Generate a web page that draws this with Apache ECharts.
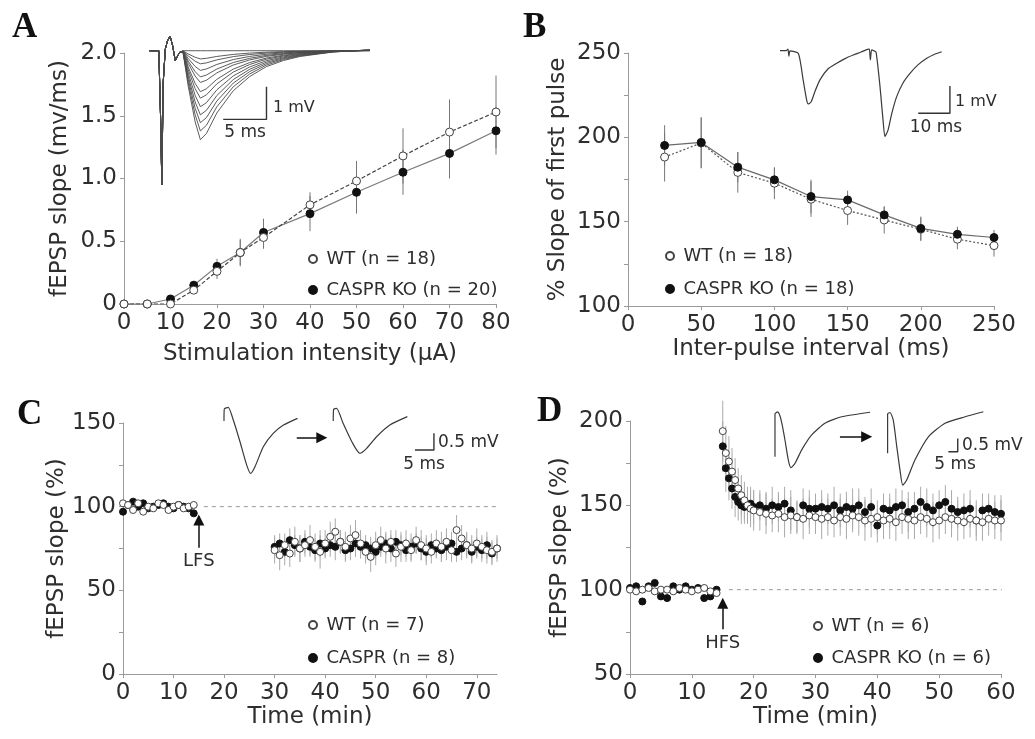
<!DOCTYPE html>
<html>
<head>
<meta charset="utf-8">
<script src="https://cdn.jsdelivr.net/npm/echarts@6/dist/echarts.min.js"></script>
<style>
  html, body { margin: 0; padding: 0; background: #fff; }
  #chart { width: 1035px; height: 739px; }
</style>
</head>
<body>
<div id="chart"></div>
<script>
// ---- panel A : input/output ----
const aX = [0, 5, 10, 15, 20, 25, 30, 40, 50, 60, 70, 80];
const aWT = [0, 0, 0, 0.11, 0.26, 0.41, 0.53, 0.79, 0.98, 1.18, 1.37, 1.53];
const aKO = [0, 0, 0.04, 0.15, 0.30, 0.41, 0.57, 0.72, 0.89, 1.05, 1.20, 1.38];
const aWTerr = [0, 0, 0.01, 0.03, 0.06, 0.10, 0.09, 0.10, 0.16, 0.22, 0.26, 0.29];
const aKOerr = [0, 0, 0.01, 0.03, 0.06, 0.11, 0.11, 0.14, 0.17, 0.18, 0.20, 0.19];

// ---- panel B : paired pulse ----
const bX = [25, 50, 75, 100, 125, 150, 175, 200, 225, 250];
const bWT = [188.3, 196.6, 179.2, 172.8, 163.3, 156.6, 151, 145.5, 139.6, 135.8];
const bKO = [195.2, 197, 182.3, 174.8, 164.9, 162.9, 154, 146, 142.5, 140.6];
const bWTerr = [14.5, 15, 12, 9.5, 10.5, 8.5, 8, 7, 6, 6.5];
const bKOerr = [12, 15, 9, 7, 10, 5.5, 5, 7, 4.5, 4.5];

// ---- panel C : LTD ----
const cBaseT = [0, 1, 2, 3, 4, 5, 6, 7, 8, 9, 10, 11, 12, 13, 14];
const cBaseWT = [102, 101, 98, 102, 97, 100, 99, 102, 101, 98, 100, 101, 99, 100, 101];
const cBaseKO = [97, 101, 103, 100, 102, 99, 100, 101, 102, 100, 99, 101, 100, 99, 96];
const cPostT = [30, 31, 32, 33, 34, 35, 36, 37, 38, 39, 40, 41, 42, 43, 44, 45, 46, 47, 48, 49,
  50, 51, 52, 53, 54, 55, 56, 57, 58, 59, 60, 61, 62, 63, 64, 65, 66, 67, 68, 69, 70, 71, 72, 73, 74];
const cPostWT = [74, 71, 77, 72, 79, 75, 77, 80, 76, 73, 78, 82, 85, 79, 76, 81, 83, 78, 73, 70,
  77, 80, 75, 79, 72, 76, 78, 74, 80, 77, 75, 73, 78, 76, 79, 74, 86, 81, 77, 75, 78, 76, 74, 73, 75];
const cPostKO = [76, 78, 73, 80, 77, 75, 79, 76, 74, 78, 75, 77, 76, 79, 74, 75, 78, 76, 77, 75,
  73, 76, 78, 75, 79, 77, 74, 76, 78, 75, 73, 77, 75, 74, 76, 78, 73, 75, 77, 73, 76, 74, 77, 72, 75];
const cPostWTerr = [8, 9, 7, 8, 9, 8, 7, 9, 8, 10, 8, 9, 8, 7, 9, 8, 9, 8, 7, 9,
  8, 8, 9, 7, 8, 9, 8, 7, 8, 9, 8, 7, 8, 9, 8, 7, 9, 8, 7, 8, 9, 7, 8, 7, 8];
const cPostKOerr = [7, 6, 8, 7, 6, 8, 7, 6, 7, 8, 6, 7, 8, 7, 6, 7, 8, 7, 6, 7,
  8, 6, 7, 8, 7, 6, 7, 8, 6, 7, 8, 7, 6, 7, 8, 7, 6, 7, 8, 7, 6, 7, 8, 7, 6];

// ---- panel D : LTP ----
const dBaseT = [0, 1, 2, 3, 4, 5, 6, 7, 8, 9, 10, 11, 12, 13, 14];
const dBaseWT = [100, 99, 100, 101, 99, 100, 100, 99, 101, 100, 99, 100, 101, 99, 98];
const dBaseKO = [101, 102, 93, 102, 104, 96, 95, 102, 100, 102, 100, 101, 95, 96, 100];
const dPostT = [15, 15.5, 16, 16.5, 17, 17.5, 18, 18.5, 19, 19.5, 20, 21, 22, 23, 24, 25, 26, 27, 28, 29,
  30, 31, 32, 33, 34, 35, 36, 37, 38, 39, 40, 41, 42, 43, 44, 45, 46, 47, 48, 49,
  50, 51, 52, 53, 54, 55, 56, 57, 58, 59, 60];
const dPostWT = [194, 181, 176, 170, 165, 160, 156, 153, 150, 148, 147, 146, 145, 144, 145, 143, 144, 143, 142, 144,
  143, 142, 143, 141, 143, 142, 144, 143, 141, 142, 143, 141, 142, 140, 143, 142, 141, 143, 142, 140,
  141, 143, 142, 141, 140, 142, 141, 140, 142, 141, 141];
const dPostKO = [185, 172, 166, 160, 155, 152, 150, 149, 150, 151, 149, 150, 148, 150, 149, 151, 147, 143, 150, 148,
  148, 149, 148, 150, 147, 149, 148, 150, 146, 149, 138, 148, 147, 149, 150, 146, 148, 152, 149, 147,
  150, 152, 148, 146, 147, 148, 141, 147, 148, 146, 145];
const dPostWTerr = [18, 16, 15, 14, 13, 12, 12, 11, 11, 11, 12, 11, 12, 10, 11, 12, 11, 10, 12, 11,
  10, 12, 11, 10, 11, 12, 10, 11, 12, 11, 10, 11, 12, 11, 10, 12, 11, 10, 11, 12,
  11, 10, 11, 12, 10, 11, 12, 11, 10, 11, 12];
const dPostKOerr = [15, 14, 13, 12, 12, 11, 11, 10, 10, 10, 10, 9, 10, 11, 9, 10, 12, 9, 10, 11,
  9, 10, 9, 11, 10, 9, 12, 10, 9, 11, 10, 9, 10, 11, 9, 12, 10, 9, 11, 10,
  9, 10, 11, 9, 10, 11, 9, 10, 9, 10, 11];

// ---- inset traces (ms, mV) ----
const tA = [0, 1.1, 1.3, 1.45, 1.6, 1.85, 2.1, 2.4, 2.7, 3.0, 3.2, 3.5, 3.9, 4.5, 5.3, 5.9, 6.6, 7.8, 9.7, 11.6, 13.5, 15.5, 17.4, 21.2, 25.5];
const artA = [0, 0, -2.0, -4.1, -1.0, 0.05, 0.3, 0.45, 0.15, -0.3, -0.35, -0.05, 0, 0, 0, 0, 0, 0, 0, 0, 0, 0, 0, 0, 0];
const epspA = [0, 0, 0, 0, 0, 0, 0, 0, 0, 0, 0, 0, -0.02, -0.4, -0.8, -1.0, -0.93, -0.7, -0.45, -0.29, -0.18, -0.11, -0.065, -0.015, 0.01];
const ampA = [0, 0.25, 0.4, 0.6, 0.8, 0.97, 1.25, 1.45, 1.71, 1.96, 2.2, 2.45, 2.72];
const scaleA = [[13.54, -1.1], [13.54, -2.1], [8.54, -2.1]];

const tB = [0, 1.9, 2.5, 2.8, 3.15, 5.8, 7.3, 8.4, 8.9, 9.8, 11.0, 12.6, 15.1, 17.9, 20.5, 23.1, 25.6, 27.9, 28.2, 28.5,
  28.9, 29.6, 30.3, 31.5, 32.5, 33.1, 34.1, 35.3, 36.8, 38.8, 41.0, 43.5, 46.3, 48.6, 51.0];
const vB = [0, 0, 0.06, -0.2, -0.01, -0.1, -1.07, -1.8, -1.95, -1.88, -1.5, -1.07, -0.67, -0.46, -0.29, -0.16, -0.05, 0.06, 0.06, -0.34,
  0.03, 0, -0.05, -1.26, -2.54, -3.15, -2.9, -2.28, -1.68, -1.18, -0.83, -0.52, -0.28, -0.14, -0.04];
const scaleB = [[53.6, -1.29], [53.6, -2.29], [43.6, -2.29]];

const tC1 = [1.05, 1.13, 2.18, 3.5, 5.26, 7.03, 8.08, 9.2, 11.4, 14.0, 16.7, 20.4];
const vC1 = [-0.35, 0.01, 0.06, -0.32, -0.97, -1.67, -1.92, -1.72, -1.12, -0.72, -0.47, -0.27];
const tC2 = [29.8, 29.9, 30.7, 32.4, 34.7, 36.8, 38.6, 41.2, 44.7, 49.3];
const vC2 = [-0.35, 0, 0.03, -0.42, -0.97, -1.32, -1.17, -0.82, -0.47, -0.22];
const arrowC = [[20.2, -0.85], [26.8, -0.85]];
const scaleC = [[56.3, -0.72], [56.3, -1.22], [51.3, -1.22]];

const tD1 = [2.67, 2.67, 4.0, 5.35, 6.4, 8.0, 9.8, 11.2, 13.4, 16.95, 22.3, 29.4, 38.3, 53.5];
const vD1 = [-1.63, -0.03, 0.05, -0.1, -0.4, -1.0, -1.75, -2.04, -1.87, -1.37, -0.81, -0.37, -0.13, 0.04];
const tD2 = [62.9, 62.9, 64.2, 65.9, 67.8, 69.5, 71.0, 73.1, 77.5, 84.7, 93.6, 104.3, 114.1];
const vD2 = [-1.5, -0.03, 0.03, -0.25, -1.25, -2.12, -2.69, -2.5, -1.75, -0.88, -0.37, -0.13, 0.06];
const arrowD = [[37.4, -0.88], [51.7, -0.88]];
const scaleD = [[100.4, -0.94], [100.4, -1.44], [95.4, -1.44]];

const FONT = '"DejaVu Sans", Verdana, sans-serif';
const TXT = '#2e2e2e';
const AXIS = '#9a9a9a';
const AX_FS = 23;

const chart = echarts.init(document.getElementById('chart'), null, { renderer: 'canvas' });

const pairs = (xs, ys) => xs.map((x, i) => [x, ys[i]]);
const errData = (xs, ys, es) => xs.map((x, i) => [x, ys[i] - es[i], ys[i] + es[i]]);

function errSeries(gi, data, color) {
  return {
    type: 'custom', xAxisIndex: gi, yAxisIndex: gi, silent: true, z: 1,
    encode: { x: 0, y: [1, 2] },
    data: data,
    renderItem: function (params, api) {
      const p1 = api.coord([api.value(0), api.value(1)]);
      const p2 = api.coord([api.value(0), api.value(2)]);
      return { type: 'line', shape: { x1: p1[0], y1: p1[1], x2: p2[0], y2: p2[1] },
        style: { stroke: color, lineWidth: 1 } };
    }
  };
}

function mainX(gi, min, max, interval, name, nameGap, extra) {
  return Object.assign({
    type: 'value', gridIndex: gi, min: min, max: max, interval: interval,
    name: name, nameLocation: 'middle', nameGap: nameGap,
    nameTextStyle: { color: TXT, fontSize: AX_FS, fontFamily: FONT },
    axisLine: { show: true, onZero: false, lineStyle: { color: AXIS, width: 1 } },
    axisTick: { show: true, length: 4, lineStyle: { color: AXIS } },
    axisLabel: { color: TXT, fontSize: AX_FS, fontFamily: FONT, margin: 8 },
    splitLine: { show: false }
  }, extra || {});
}

function mainY(gi, min, max, interval, name, nameGap, formatter, minor) {
  return {
    type: 'value', gridIndex: gi, min: min, max: max, interval: interval,
    name: name, nameLocation: 'middle', nameGap: nameGap,
    nameTextStyle: { color: TXT, fontSize: AX_FS, fontFamily: FONT },
    axisLine: { show: true, onZero: false, lineStyle: { color: AXIS, width: 1 } },
    axisTick: { show: true, length: 4, lineStyle: { color: AXIS } },
    minorTick: { show: !!minor, splitNumber: 2, length: 4, lineStyle: { color: AXIS } },
    axisLabel: { color: TXT, fontSize: AX_FS, fontFamily: FONT, margin: 7, formatter: formatter },
    splitLine: { show: false }
  };
}

function hidden(gi, min, max) {
  return { type: 'value', gridIndex: gi, min: min, max: max, show: false, splitLine: { show: false } };
}

function trace(gi, data, extra) {
  return Object.assign({
    type: 'line', xAxisIndex: gi, yAxisIndex: gi, data: data, showSymbol: false, symbol: 'none',
    silent: true, smooth: 0.2, lineStyle: { color: '#3a3a3a', width: 1.2 }, z: 3
  }, extra || {});
}

function arrowMark(from, to, label) {
  return {
    silent: true, symbol: ['none', 'triangle'], symbolSize: 11,
    lineStyle: { color: '#111', width: 1.5, type: 'solid' },
    label: label ? { show: true, position: 'start', formatter: label, distance: 5,
      color: TXT, fontSize: 18, fontFamily: FONT } : { show: false },
    data: [[{ coord: from }, { coord: to }]]
  };
}

const openStyle = { color: '#fff', borderColor: '#444', borderWidth: 1, opacity: 1 };
const fillStyle = { color: '#111', borderColor: '#111', borderWidth: 1, opacity: 1 };

const series = [];

// A
series.push(errSeries(0, errData(aX, aWT, aWTerr), '#777'));
series.push(errSeries(0, errData(aX, aKO, aKOerr), '#777'));
series.push({ type: 'line', name: 'CASPR KO (n = 20)', xAxisIndex: 0, yAxisIndex: 0, data: pairs(aX, aKO),
  symbol: 'circle', symbolSize: 8, lineStyle: { color: '#7a7a7a', width: 1.2 }, itemStyle: fillStyle, z: 4 });
series.push({ type: 'line', name: 'WT (n = 18)', xAxisIndex: 0, yAxisIndex: 0, data: pairs(aX, aWT),
  symbol: 'circle', symbolSize: 8, lineStyle: { color: '#444', width: 1.2, type: [4, 2] }, itemStyle: openStyle, z: 5 });

// B
series.push(errSeries(1, errData(bX, bWT, bWTerr), '#777'));
series.push(errSeries(1, errData(bX, bKO, bKOerr), '#777'));
series.push({ type: 'line', name: 'WT (n = 18)', xAxisIndex: 1, yAxisIndex: 1, data: pairs(bX, bWT),
  symbol: 'circle', symbolSize: 8, lineStyle: { color: '#555', width: 1.2, type: [2, 2] }, itemStyle: openStyle, z: 4 });
series.push({ type: 'line', name: 'CASPR KO (n = 18)', xAxisIndex: 1, yAxisIndex: 1, data: pairs(bX, bKO),
  symbol: 'circle', symbolSize: 8, lineStyle: { color: '#6a6a6a', width: 1.2 }, itemStyle: fillStyle, z: 5 });

// C
series.push(errSeries(2, errData(cPostT, cPostWT, cPostWTerr), '#aaa'));
series.push(errSeries(2, errData(cPostT, cPostKO, cPostKOerr), '#aaa'));
series.push({ type: 'line', xAxisIndex: 2, yAxisIndex: 2, data: [[16, 100], [76.5, 100]], symbol: 'none',
  silent: true, clip: false, lineStyle: { color: '#9a9a9a', width: 1, type: [4, 4] }, z: 2 });
series.push({ type: 'scatter', name: 'CASPR (n = 8)', xAxisIndex: 2, yAxisIndex: 2,
  data: pairs(cBaseT.concat(cPostT), cBaseKO.concat(cPostKO)),
  symbol: 'circle', symbolSize: 7, itemStyle: fillStyle, z: 4,
  markLine: arrowMark([15, 75.5], [15, 92], 'LFS') });
series.push({ type: 'scatter', name: 'WT (n = 7)', xAxisIndex: 2, yAxisIndex: 2,
  data: pairs(cBaseT.concat(cPostT), cBaseWT.concat(cPostWT)),
  symbol: 'circle', symbolSize: 7, itemStyle: openStyle, z: 5 });

// D
series.push(errSeries(3, errData(dPostT, dPostWT, dPostWTerr), '#aaa'));
series.push(errSeries(3, errData(dPostT, dPostKO, dPostKOerr), '#aaa'));
series.push({ type: 'line', xAxisIndex: 3, yAxisIndex: 3, data: [[16, 100], [60.3, 100]], symbol: 'none',
  silent: true, clip: false, lineStyle: { color: '#9a9a9a', width: 1, type: [4, 4] }, z: 2 });
series.push({ type: 'scatter', name: 'CASPR KO (n = 6)', xAxisIndex: 3, yAxisIndex: 3,
  data: pairs(dBaseT.concat(dPostT), dBaseKO.concat(dPostKO)),
  symbol: 'circle', symbolSize: 7, itemStyle: fillStyle, z: 4,
  markLine: arrowMark([15, 76.5], [15, 92], 'HFS') });
series.push({ type: 'scatter', name: 'WT (n = 6)', xAxisIndex: 3, yAxisIndex: 3,
  data: pairs(dBaseT.concat(dPostT), dBaseWT.concat(dPostWT)),
  symbol: 'circle', symbolSize: 7, itemStyle: openStyle, z: 5 });

// insets
ampA.forEach(function (amp) {
  series.push(trace(4, tA.map((t, j) => [t, artA[j] + amp * epspA[j]]),
    { smooth: false, lineStyle: { color: '#4a4a4a', width: 0.9 } }));
});
series.push(trace(4, scaleA, { smooth: false, lineStyle: { color: '#333', width: 1.4 } }));
series.push(trace(5, pairs(tB, vB)));
series.push(trace(5, scaleB, { smooth: false, lineStyle: { color: '#333', width: 1.4 } }));
series.push(trace(6, pairs(tC1, vC1), { markLine: arrowMark(arrowC[0], arrowC[1]) }));
series.push(trace(6, pairs(tC2, vC2)));
series.push(trace(6, scaleC, { smooth: false, lineStyle: { color: '#333', width: 1.4 } }));
series.push(trace(7, pairs(tD1, vD1), { markLine: arrowMark(arrowD[0], arrowD[1]) }));
series.push(trace(7, pairs(tD2, vD2)));
series.push(trace(7, scaleD, { smooth: false, lineStyle: { color: '#333', width: 1.4 } }));

function legendAt(left, top, gap, names) {
  return {
    orient: 'vertical', left: left, top: top, itemWidth: 17, itemHeight: 8, itemGap: gap,
    icon: 'circle', selectedMode: false, data: names,
    textStyle: { color: TXT, fontSize: 18, fontFamily: FONT, lineHeight: 20 }
  };
}

function label(text, x, y, size, align) {
  return { type: 'text', x: x, y: y, silent: true,
    style: { text: text, fill: TXT, font: size + 'px ' + FONT, textAlign: align || 'left', textVerticalAlign: 'middle' } };
}
function letter(text, x, y) {
  return { type: 'text', x: x, y: y, silent: true,
    style: { text: text, fill: '#111', font: 'bold 35px "Liberation Serif", "Times New Roman", serif', textVerticalAlign: 'top' } };
}

const option = {
  animation: false,
  backgroundColor: '#fff',
  grid: [
    { left: 124, top: 53, width: 372, height: 251 },
    { left: 628, top: 53, width: 366, height: 253 },
    { left: 123, top: 423, width: 374, height: 251 },
    { left: 630, top: 421, width: 371, height: 253 },
    { left: 149.3, top: 31.1, width: 220.7, height: 157 },
    { left: 780, top: 42.5, width: 171.2, height: 103.8 },
    { left: 220, top: 399.3, width: 220.4, height: 83.5 },
    { left: 770, top: 405.3, width: 230, height: 88.1 }
  ],
  xAxis: [
    mainX(0, 0, 80, 10, 'Stimulation intensity (µA)', 39),
    mainX(1, 0, 250, 50, 'Inter-pulse interval (ms)', 32),
    mainX(2, 0, 74, 10, 'Time (min)', 29, {
      axisTick: { show: true, length: 4, lineStyle: { color: AXIS }, customValues: [0, 10, 20, 30, 40, 50, 60, 70] },
      axisLabel: { color: TXT, fontSize: AX_FS, fontFamily: FONT, margin: 8, customValues: [0, 10, 20, 30, 40, 50, 60, 70] }
    }),
    mainX(3, 0, 60, 10, 'Time (min)', 30),
    hidden(4, 0, 25.5),
    hidden(5, 0, 54),
    hidden(6, 0, 58),
    hidden(7, 0, 123)
  ],
  yAxis: [
    mainY(0, 0, 2, 0.5, 'fEPSP slope (mv/ms)', 52, v => v === 0 ? '0' : v.toFixed(1), false),
    mainY(1, 100, 250, 50, '% Slope of first pulse', 58, null, true),
    mainY(2, 0, 150, 50, 'fEPSP slope (%)', 50, null, true),
    mainY(3, 50, 200, 50, 'fEPSP slope (%)', 58, null, true),
    hidden(4, -4.2, 0.6),
    hidden(5, -3.5, 0.3),
    hidden(6, -2.2, 0.3),
    hidden(7, -3.0, 0.3)
  ],
  legend: [
    legendAt(303, 244, 11, ['WT (n = 18)', 'CASPR KO (n = 20)']),
    legendAt(660, 241, 13, ['WT (n = 18)', 'CASPR KO (n = 18)']),
    legendAt(303, 610, 13, ['WT (n = 7)', 'CASPR (n = 8)']),
    legendAt(808, 611, 12, ['WT (n = 6)', 'CASPR KO (n = 6)'])
  ],
  graphic: [
    letter('A', 12, 10),
    letter('B', 523, 10),
    letter('C', 17, 397),
    letter('D', 537, 394),
    label('1 mV', 273, 108, 16),
    label('5 ms', 245, 133, 17, 'center'),
    label('1 mV', 955, 102, 16),
    label('10 ms', 936, 128, 17, 'center'),
    label('0.5 mV', 438, 443, 17),
    label('5 ms', 424, 465, 17, 'center'),
    label('0.5 mV', 962, 446, 17),
    label('5 ms', 955, 465, 17, 'center')
  ],
  series: series
};

chart.setOption(option);
</script>
</body>
</html>
